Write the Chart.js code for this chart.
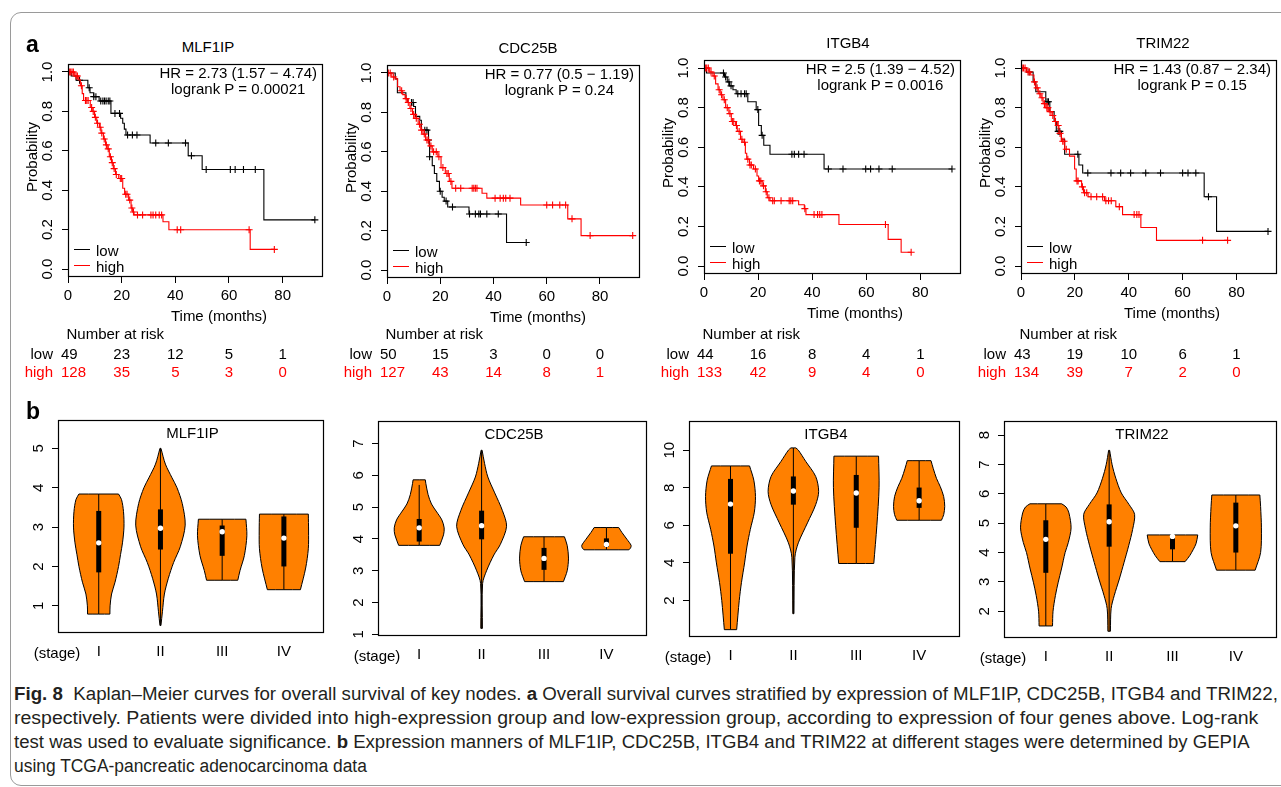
<!DOCTYPE html>
<html><head><meta charset="utf-8">
<script src="https://cdn.jsdelivr.net/npm/chart.js@4.4.1/dist/chart.umd.min.js"></script>
<style>
html,body{margin:0;padding:0;background:#fff;}
body{width:1281px;height:787px;position:relative;overflow:hidden;font-family:"Liberation Sans",Arial,Helvetica,sans-serif;color:#000;}
.t{position:absolute;white-space:nowrap;font-size:15px;line-height:1;}
canvas{position:absolute;}
#frame{position:absolute;left:10px;top:12px;width:1300px;height:772px;border:1.5px solid #9a9a9a;border-radius:11px;}
.cap{position:absolute;left:14px;white-space:nowrap;font-family:"Liberation Sans Narrow","Liberation Sans",Arial,sans-serif;font-size:18px;line-height:1;color:#231f20;transform-origin:0 50%;}
.leg{position:absolute;height:0;border-top:1.3px solid #000;}
</style></head><body>
<div id="frame"></div>
<script>
// ---------------- DATA ----------------
const kmGenes = ['MLF1IP', 'CDC25B', 'ITGB4', 'TRIM22'];
const kmHR = ['HR = 2.73 (1.57 \u2212 4.74)', 'HR = 0.77 (0.5 \u2212 1.19)', 'HR = 2.5 (1.39 \u2212 4.52)', 'HR = 1.43 (0.87 \u2212 2.34)'];
const kmP = ['logrank P = 0.00021', 'logrank P = 0.24', 'logrank P = 0.0016', 'logrank P = 0.15'];
const kmXTicks = [0, 20, 40, 60, 80];
const kmYTicks = [0, 0.2, 0.4, 0.6, 0.8, 1.0];
const groupNames = ['low', 'high'];

// MLF1IP
const mlfLowT = [0, 1.2, 3, 7.4, 8.2, 9.6, 11.6, 16.0, 19.6, 20.4, 21.0, 21.6, 30.6, 44.8, 50.0, 73.0, 92];
const mlfLowS = [1, 0.98, 0.958, 0.92, 0.895, 0.875, 0.853, 0.79, 0.765, 0.74, 0.71, 0.68, 0.64, 0.575, 0.505, 0.25, 0.25];
const mlfLowCens = [4.3, 7.9, 9.6, 10.4, 12.2, 13.0, 13.6, 14.2, 15.0, 15.6, 17.5, 19.2, 22.2, 24.0, 25.7, 32.7, 37.4, 43.8, 46.0, 51.5, 60.5, 62.3, 65.4, 69.8, 92];
const mlfHighT = [0, 2.5, 4.0, 4.6, 5.3, 5.8, 8.3, 9.0, 9.9, 10.7, 11.7, 12.3, 13.2, 14.0, 14.6, 15.4, 16.2, 16.9, 17.7, 18.9, 20.4, 21.1, 22.6, 23.5, 24.1, 24.6, 35.4, 37.6, 67.9, 76.9];
const mlfHighS = [1, 0.98, 0.96, 0.93, 0.89, 0.855, 0.82, 0.80, 0.77, 0.74, 0.72, 0.69, 0.66, 0.63, 0.61, 0.57, 0.54, 0.51, 0.48, 0.46, 0.41, 0.38, 0.35, 0.31, 0.29, 0.275, 0.24, 0.20, 0.10, 0.10];
const mlfHighCens = [0.5, 1.0, 1.5, 2.0, 3.0, 3.5, 5.0, 6.5, 7.0, 7.5, 8.8, 9.4, 10.2, 11.0, 12.0, 12.6, 13.5, 14.3, 15.0, 15.8, 16.5, 17.2, 18.0, 19.5, 20.0, 21.5, 22.0, 23.0, 23.8, 24.4, 25.9, 27.8, 30.9, 31.7, 32.7, 34.0, 34.9, 40.7, 42.0, 67.5, 76.9];
const mlfRiskLow = [49, 23, 12, 5, 1];
const mlfRiskHigh = [128, 35, 5, 3, 0];

// CDC25B
const cdcLowT = [0, 3.1, 3.9, 7.1, 7.8, 10.0, 10.7, 12.3, 12.9, 15.6, 16.0, 17.0, 17.8, 18.7, 19.7, 20.7, 21.5, 22.8, 30.8, 44.9, 52.3];
const cdcLowS = [1, 0.97, 0.90, 0.87, 0.85, 0.83, 0.78, 0.76, 0.71, 0.66, 0.575, 0.53, 0.49, 0.45, 0.40, 0.37, 0.35, 0.32, 0.285, 0.14, 0.14];
const cdcLowCens = [9.2, 9.8, 14.2, 15.0, 15.6, 16.0, 20.0, 22.2, 24.6, 31.0, 33.2, 34.5, 35.1, 37.5, 41.8, 52.3];
const cdcHighT = [0, 1.8, 3.1, 4.0, 4.9, 5.9, 6.8, 7.6, 8.6, 9.6, 10.5, 11.7, 12.7, 13.5, 14.5, 15.8, 17.0, 19.1, 20.3, 21.9, 23.4, 24.4, 35.7, 37.5, 50.2, 67.9, 72.9, 92.3];
const cdcHighS = [1, 0.98, 0.97, 0.93, 0.91, 0.89, 0.87, 0.85, 0.82, 0.79, 0.77, 0.74, 0.71, 0.69, 0.66, 0.63, 0.60, 0.575, 0.52, 0.49, 0.45, 0.415, 0.39, 0.365, 0.33, 0.26, 0.175, 0.175];
const cdcHighCens = [0.5, 1.2, 2.5, 5.5, 7.2, 8.0, 9.0, 10.0, 11.0, 12.2, 13.0, 14.0, 15.0, 15.5, 16.5, 17.5, 18.5, 19.5, 21.0, 22.5, 23.0, 24.0, 25.8, 27.7, 32.0, 32.6, 33.2, 33.8, 40.6, 42.5, 43.7, 44.6, 46.2, 60.0, 62.2, 64.9, 67.1, 69.5, 76.3, 92.3];
const cdcRiskLow = [50, 15, 3, 0, 0];
const cdcRiskHigh = [127, 43, 14, 8, 1];

// ITGB4
const itgLowT = [0, 0.9, 7.6, 8.6, 9.4, 10.7, 11.9, 16.2, 19.3, 20.2, 21.2, 22.1, 24.4, 44.4, 91.7];
const itgLowS = [1, 0.975, 0.955, 0.93, 0.91, 0.89, 0.87, 0.83, 0.79, 0.71, 0.66, 0.61, 0.565, 0.49, 0.49];
const itgLowCens = [7.2, 8.0, 9.2, 10.0, 12.5, 13.7, 15.0, 15.6, 19.9, 21.5, 32.5, 33.4, 35.0, 37.0, 46.0, 51.4, 59.8, 61.6, 64.7, 69.6, 91.7];
const itgHighT = [0, 2.1, 3.3, 4.3, 5.2, 6.0, 7.0, 8.0, 9.2, 10.1, 11.7, 12.3, 13.5, 14.4, 15.3, 15.8, 16.8, 18.3, 19.6, 20.2, 21.5, 22.7, 23.4, 24.4, 35.0, 37.1, 37.7, 49.9, 68.1, 72.9, 76.6];
const itgHighS = [1, 0.98, 0.96, 0.92, 0.89, 0.865, 0.84, 0.80, 0.77, 0.73, 0.71, 0.68, 0.64, 0.625, 0.57, 0.54, 0.51, 0.49, 0.455, 0.43, 0.405, 0.375, 0.345, 0.33, 0.31, 0.29, 0.26, 0.21, 0.135, 0.07, 0.07];
const itgHighCens = [0.5, 1.0, 1.6, 2.6, 3.8, 5.6, 6.5, 7.5, 8.6, 9.6, 10.5, 11.0, 12.0, 13.0, 14.0, 15.0, 16.2, 17.0, 17.5, 19.0, 20.5, 21.0, 22.0, 23.0, 24.0, 25.4, 26.0, 28.5, 31.5, 32.1, 32.8, 37.3, 40.7, 42.0, 42.8, 43.6, 67.1, 76.6];
const itgRiskLow = [44, 16, 8, 4, 1];
const itgRiskHigh = [133, 42, 9, 4, 0];

// TRIM22
const trimLowT = [0, 2.1, 4.5, 5.5, 9.2, 10.7, 12.3, 13.1, 15.0, 16.2, 21.5, 22.9, 68.0, 72.6, 91.7];
const trimLowS = [1, 0.98, 0.93, 0.88, 0.83, 0.78, 0.73, 0.68, 0.64, 0.565, 0.51, 0.47, 0.35, 0.175, 0.175];
const trimLowCens = [3.0, 9.7, 10.2, 13.8, 14.4, 21.1, 24.8, 33.4, 37.0, 40.7, 46.3, 51.8, 60.0, 62.0, 64.9, 69.6, 91.7];
const trimHighT = [0, 2.1, 3.6, 4.8, 5.5, 6.4, 7.4, 8.2, 9.2, 10.3, 11.5, 12.5, 13.5, 14.1, 15.0, 16.2, 18.0, 19.9, 20.5, 22.5, 23.2, 24.9, 31.0, 35.2, 37.7, 44.5, 50.3, 76.7];
const trimHighS = [1, 0.98, 0.965, 0.93, 0.90, 0.87, 0.85, 0.82, 0.80, 0.78, 0.76, 0.73, 0.71, 0.67, 0.63, 0.59, 0.555, 0.49, 0.43, 0.40, 0.37, 0.35, 0.33, 0.30, 0.26, 0.195, 0.13, 0.13];
const trimHighCens = [0.4, 0.9, 1.5, 2.6, 3.2, 5.0, 6.0, 7.0, 7.8, 8.7, 9.6, 10.0, 10.8, 11.8, 12.8, 13.8, 14.5, 15.5, 16.0, 16.8, 20.8, 21.2, 22.8, 23.6, 24.4, 26.0, 28.1, 30.3, 31.5, 32.5, 33.5, 36.5, 42.0, 43.0, 43.8, 67.4, 76.7];
const trimRiskLow = [43, 19, 10, 6, 1];
const trimRiskHigh = [134, 39, 7, 2, 0];

// Violin plots (panel b)
const stageLabels = ['I', 'II', 'III', 'IV'];
const mlfVioTicks = [1, 2, 3, 4, 5];
const cdcVioTicks = [1, 2, 3, 4, 5, 6, 7];
const itgVioTicks = [2, 4, 6, 8, 10];
const trimVioTicks = [2, 3, 4, 5, 6, 7, 8];

const mlfViolinY = [[0.79,1.0,1.3,1.6,2.0,2.3,2.6,3.0,3.4,3.7,3.84],[0.5,0.85,1.3,1.7,2.1,2.5,3.05,3.6,4.0,4.25,4.6,5.0],[1.65,1.9,2.28,2.78,3.2],[1.41,1.96,2.45,2.9,3.33]];
const mlfViolinW = [[0.181,0.184,0.208,0.264,0.321,0.353,0.385,0.409,0.401,0.369,0.321],[0.008,0.032,0.064,0.128,0.213,0.321,0.401,0.353,0.268,0.188,0.080,0.008],[0.253,0.29,0.36,0.40,0.385],[0.268,0.353,0.396,0.40,0.396]];
const mlfMin = [0.79, 0.5, 1.65, 1.41], mlfQ1 = [1.85, 2.43, 2.27, 2.0], mlfMed = [2.60, 2.97, 2.88, 2.72], mlfQ3 = [3.41, 3.45, 3.04, 3.27], mlfMax = [3.84, 5.0, 3.2, 3.33];

const cdcViolinY = [[3.8,4.13,4.35,4.6,4.85,5.1,5.4,5.75,5.86],[1.19,2.6,3.0,3.5,3.83,4.4,4.9,5.45,5.95,6.38,6.79],[2.66,3.0,3.4,3.8,4.07],[3.66,3.72,3.8,3.99,4.2,4.36]];
const cdcViolinW = [[0.329,0.390,0.400,0.363,0.281,0.197,0.142,0.106,0.098],[0.013,0.016,0.079,0.197,0.300,0.400,0.332,0.210,0.100,0.047,0.008],[0.311,0.371,0.392,0.371,0.327],[0.360,0.387,0.395,0.329,0.250,0.197]];
const cdcMin = [3.8, 1.19, 2.66, 3.66], cdcQ1 = [3.92, 3.99, 3.03, 3.75], cdcMed = [4.35, 4.42, 3.39, 3.83], cdcQ3 = [4.63, 4.89, 3.72, 4.02], cdcMax = [5.70, 6.79, 4.07, 4.36];

const itgViolinY = [[0.45,2,2.95,4,4.9,5.78,6.7,7.54,8.4,9.16],[1.3,4.3,5.07,6.13,7.1,7.8,8.6,9.4,10.0,10.12],[3.97,6.0,8.0,9.68],[6.27,6.57,7.01,7.54,8.06,8.5,9.03,9.44]];
const itgViolinW = [[0.098,0.139,0.174,0.224,0.263,0.315,0.379,0.397,0.371,0.303],[0.009,0.024,0.079,0.224,0.355,0.402,0.355,0.197,0.079,0.039],[0.279,0.328,0.363,0.355],[0.355,0.391,0.407,0.390,0.336,0.276,0.224,0.189]];
const itgMin = [0.45, 1.3, 3.97, 6.27], itgQ1 = [4.49, 7.1, 5.87, 6.93], itgMed = [7.13, 7.83, 7.72, 7.31], itgQ3 = [8.47, 8.6, 8.68, 8.01], itgMax = [9.16, 10.12, 9.68, 9.44];

const trimViolinY = [[1.5,2,2.54,2.99,3.44,4.0,4.34,4.84,5.35,5.55,5.66],[1.32,2.09,2.54,3.1,3.66,4.23,4.79,5.3,5.64,6.03,6.53,6.99,7.48],[3.69,3.9,4.3,4.6],[3.4,4.0,4.84,5.57,5.96]];
const trimViolinW = [[0.106,0.114,0.152,0.196,0.247,0.305,0.355,0.399,0.365,0.321,0.250],[0.020,0.031,0.081,0.161,0.235,0.308,0.371,0.402,0.313,0.192,0.105,0.047,0.008],[0.199,0.274,0.371,0.399],[0.305,0.391,0.404,0.391,0.379]];
const trimMin = [1.5, 1.32, 3.69, 3.4], trimQ1 = [3.31, 4.2, 4.11, 4.0], trimMed = [4.45, 5.05, 4.55, 4.91], trimQ3 = [5.1, 5.64, 4.55, 5.7], trimMax = [5.66, 7.48, 4.6, 5.96];

// ---------------- LAYOUT / STYLE ----------------
Chart.defaults.font.family = '"Liberation Sans", Arial, Helvetica, sans-serif';
Chart.defaults.font.size = 15;
Chart.defaults.color = '#000';

const RED = '#ff0000';
const ORANGE = '#ff8000';

const boxPlugin = {
  id: 'rbox',
  afterDraw(chart) {
    const a = chart.chartArea, ctx = chart.ctx;
    const L = Math.round(a.left), T = Math.round(a.top), R = Math.round(a.right), B = Math.round(a.bottom);
    ctx.save();
    ctx.strokeStyle = '#000'; ctx.lineWidth = 1.2;
    ctx.strokeRect(L + 0.5, T + 0.5, R - L - 1, B - T - 1);
    ctx.restore();
  }
};

function txt(s, x, y, o) {
  o = o || {};
  const d = document.createElement('div');
  d.className = 't';
  if (o.html) d.innerHTML = s; else d.textContent = s;
  d.style.left = x + 'px'; d.style.top = y + 'px';
  let tr = o.align === 'left' ? 'translate(0,-50%)' : (o.align === 'right' ? 'translate(-100%,-50%)' : 'translate(-50%,-50%)');
  if (o.rot) tr += ' rotate(-90deg)';
  d.style.transform = tr;
  if (o.color) d.style.color = o.color;
  if (o.size) d.style.fontSize = o.size + 'px';
  if (o.bold) d.style.fontWeight = 'bold';
  document.body.appendChild(d);
  return d;
}

function makeCanvas(box, pad) {
  const c = document.createElement('canvas');
  const w = box.r - box.l + pad.l + pad.r, h = box.b - box.t + pad.t + pad.b;
  c.width = w; c.height = h;
  c.style.left = (box.l - pad.l) + 'px'; c.style.top = (box.t - pad.t) + 'px';
  c.style.width = w + 'px'; c.style.height = h + 'px';
  document.body.appendChild(c);
  return c;
}

function fixX(h) { return s => { s.height = h; s.paddingLeft = 0; s.paddingRight = 0; s.paddingTop = 0; s.paddingBottom = 0; }; }
function fixY(w) { return s => { s.width = w; s.paddingLeft = 0; s.paddingRight = 0; s.paddingTop = 0; s.paddingBottom = 0; }; }

function survAt(T, S, t) { let s = S[0]; for (let i = 0; i < T.length; i++) { if (T[i] <= t) s = S[i]; } return s; }
function stepPts(T, S) { return T.map((t, i) => ({ x: t, y: S[i] })); }
function censPts(T, S, C) { return C.map(t => ({ x: t, y: survAt(T, S, t) })); }

const kmPanels = [
  { box: { l: 68, t: 62, r: 325, b: 277 }, titleX: 208, low: [mlfLowT, mlfLowS, mlfLowCens], high: [mlfHighT, mlfHighS, mlfHighCens], risk: [mlfRiskLow, mlfRiskHigh] },
  { box: { l: 387, t: 63, r: 642, b: 278 }, titleX: 528, low: [cdcLowT, cdcLowS, cdcLowCens], high: [cdcHighT, cdcHighS, cdcHighCens], risk: [cdcRiskLow, cdcRiskHigh] },
  { box: { l: 704, t: 58, r: 963, b: 274 }, titleX: 848, low: [itgLowT, itgLowS, itgLowCens], high: [itgHighT, itgHighS, itgHighCens], risk: [itgRiskLow, itgRiskHigh] },
  { box: { l: 1021, t: 58, r: 1279, b: 274 }, titleX: 1163, low: [trimLowT, trimLowS, trimLowCens], high: [trimHighT, trimHighS, trimHighCens], risk: [trimRiskLow, trimRiskHigh] }
];

function axisCommon() {
  return {
    grid: { display: true, drawOnChartArea: false, drawTicks: true, tickLength: 6, color: '#000', lineWidth: 1 },
    border: { display: false }
  };
}

kmPanels.forEach((p, k) => {
  const pad = { l: 60, r: 3, t: 3, b: 40 };
  const cv = makeCanvas(p.box, pad);
  const [lT, lS, lC] = p.low, [hT, hS, hC] = p.high;
  const chart = new Chart(cv, {
    type: 'scatter',
    data: {
      datasets: [
        { data: stepPts(lT, lS), showLine: true, stepped: true, borderColor: '#000', borderWidth: 1.1, pointRadius: 0, fill: false, order: 4 },
        { data: censPts(lT, lS, lC), showLine: false, pointStyle: 'cross', pointRadius: 3.5, borderColor: '#000', backgroundColor: '#000', pointBorderWidth: 1.1, order: 3 },
        { data: stepPts(hT, hS), showLine: true, stepped: true, borderColor: RED, borderWidth: 1.1, pointRadius: 0, fill: false, order: 2 },
        { data: censPts(hT, hS, hC), showLine: false, pointStyle: 'cross', pointRadius: 3.5, borderColor: RED, backgroundColor: RED, pointBorderWidth: 1.1, order: 1 }
      ]
    },
    options: {
      responsive: false, animation: false, devicePixelRatio: 1, events: [],
      layout: { padding: { left: 0, right: pad.r, top: pad.t, bottom: 0 } },
      plugins: { legend: { display: false }, tooltip: { enabled: false } },
      scales: {
        x: Object.assign(axisCommon(), {
          type: 'linear', min: 0, max: 95,
          afterFit: fixX(pad.b),
          afterBuildTicks: s => { s.ticks = kmXTicks.map(v => ({ value: v })); },
          ticks: { padding: 4, maxRotation: 0, autoSkip: false, callback: v => String(v) }
        }),
        y: Object.assign(axisCommon(), {
          type: 'linear', min: -0.04, max: 1.04,
          afterFit: fixY(pad.l),
          afterBuildTicks: s => { s.ticks = kmYTicks.map(v => ({ value: v })); },
          ticks: { padding: 4, minRotation: 90, maxRotation: 90, crossAlign: 'center', autoSkip: false, callback: v => Number(v).toFixed(1) }
        })
      }
    },
    plugins: [boxPlugin]
  });

  const b = p.box;
  txt(kmGenes[k], p.titleX, b.t - 16);
  const hr = document.createElement('div');
  hr.className = 't';
  hr.style.right = (1281 - (b.r - 8)) + 'px';
  hr.style.top = (b.t + 2.5) + 'px';
  hr.style.textAlign = 'center';
  hr.style.lineHeight = '16.5px';
  hr.innerHTML = kmHR[k] + '<br>' + kmP[k];
  document.body.appendChild(hr);
  [['#000', b.b - 27.5], [RED, b.b - 11.5]].forEach((g, i) => {
    const ln = document.createElement('div');
    ln.className = 'leg';
    ln.style.left = (b.l + 6) + 'px'; ln.style.width = '16px'; ln.style.top = (g[1] - 0.5) + 'px';
    ln.style.borderTopColor = g[0];
    document.body.appendChild(ln);
    txt(groupNames[i], b.l + 28, g[1], { align: 'left' });
  });
  txt('Time (months)', b.l + 151, b.b + 38);
  txt('Probability', b.l - 37, b.t + 95, { rot: true });
  txt('Number at risk', b.l - 1.5, 333, { align: 'left' });
  const rows = [[p.risk[0], '#000', 352.5], [p.risk[1], RED, 371]];
  rows.forEach((r, i) => {
    txt(groupNames[i], b.l - 15, r[2], { align: 'right', color: r[1] });
    r[0].forEach((v, j) => {
      const px = (b.l - pad.l) + chart.scales.x.getPixelForValue(kmXTicks[j]);
      if (j === 0) txt(String(v), px - 7, r[2], { align: 'left', color: r[1] });
      else txt(String(v), px, r[2], { color: r[1] });
    });
  });
});

// -------- violins --------
const vioPanels = [
  { gene: 'MLF1IP', box: { l: 58, t: 418, r: 327, b: 633 }, ymin: 0.31, ymax: 5.72, ticks: mlfVioTicks, pad: 8.5, vy: mlfViolinY, vw: mlfViolinW, mn: mlfMin, q1: mlfQ1, md: mlfMed, q3: mlfQ3, mx: mlfMax },
  { gene: 'CDC25B', box: { l: 378, t: 419, r: 650, b: 636 }, ymin: 0.95, ymax: 7.71, ticks: cdcVioTicks, pad: 8.5, vy: cdcViolinY, vw: cdcViolinW, mn: cdcMin, q1: cdcQ1, md: cdcMed, q3: cdcQ3, mx: cdcMax },
  { gene: 'ITGB4', box: { l: 689, t: 419, r: 963, b: 637 }, ymin: 0.06, ymax: 11.55, ticks: itgVioTicks, pad: 4.5, vy: itgViolinY, vw: itgViolinW, mn: itgMin, q1: itgQ1, md: itgMed, q3: itgQ3, mx: itgMax },
  { gene: 'TRIM22', box: { l: 1004, t: 419, r: 1280, b: 638 }, ymin: 1.09, ymax: 8.48, ticks: trimVioTicks, pad: 8.5, vy: trimViolinY, vw: trimViolinW, mn: trimMin, q1: trimQ1, md: trimMed, q3: trimQ3, mx: trimMax }
];

function violinShape(xc, ys, ws) {
  const pts = [];
  const n = ys.length;
  for (let i = 0; i < n; i++) {
    pts.push({ x: xc + ws[i], y: ys[i] });
    if (i === 0 || i === n - 1) pts.push({ x: xc + ws[i], y: ys[i] });
  }
  for (let i = n - 1; i >= 0; i--) {
    pts.push({ x: xc - ws[i], y: ys[i] });
    if (i === 0 || i === n - 1) pts.push({ x: xc - ws[i], y: ys[i] });
  }
  pts.push({ x: xc + ws[0], y: ys[0] });
  return pts;
}

vioPanels.forEach(p => {
  const pad = { l: 50, r: 1, t: 2, b: 32 };
  const cv = makeCanvas(p.box, pad);
  const ds = [];
  stageLabels.forEach((s, i) => {
    const xc = i + 1;
    ds.push({ data: violinShape(xc, p.vy[i], p.vw[i]), showLine: true, tension: 0.3, fill: 'shape', backgroundColor: ORANGE, borderColor: '#000', borderWidth: 1, pointRadius: 0, order: 40 + i });
    ds.push({ data: [{ x: xc, y: p.mn[i] }, { x: xc, y: p.mx[i] }], showLine: true, borderColor: '#000', borderWidth: 1, pointRadius: 0, fill: false, order: 30 + i });
    ds.push({ data: [{ x: xc, y: p.q1[i] }, { x: xc, y: p.q3[i] }], showLine: true, borderColor: '#000', borderWidth: 5, borderCapStyle: 'butt', pointRadius: 0, fill: false, order: 20 + i });
    ds.push({ data: [{ x: xc, y: p.md[i] }], showLine: false, pointRadius: 2.7, pointStyle: 'circle', backgroundColor: '#fff', borderColor: '#fff', pointBorderWidth: 0, order: 10 + i });
  });
  new Chart(cv, {
    type: 'scatter',
    data: { datasets: ds },
    options: {
      responsive: false, animation: false, devicePixelRatio: 1, events: [],
      layout: { padding: { left: 0, right: pad.r, top: pad.t, bottom: 0 } },
      plugins: { legend: { display: false }, tooltip: { enabled: false } },
      scales: {
        x: {
          type: 'linear', min: 0.34, max: 4.65,
          afterFit: fixX(pad.b),
          afterBuildTicks: s => { s.ticks = stageLabels.map((_, i) => ({ value: i + 1 })); },
          grid: { display: false, drawTicks: false },
          border: { display: false },
          ticks: { padding: 10, maxRotation: 0, autoSkip: false, callback: v => stageLabels[Math.round(v) - 1] || '' }
        },
        y: Object.assign(axisCommon(), {
          type: 'linear', min: p.ymin, max: p.ymax,
          afterFit: fixY(pad.l),
          afterBuildTicks: s => { s.ticks = p.ticks.map(v => ({ value: v })); },
          ticks: { padding: p.pad, minRotation: 90, maxRotation: 90, crossAlign: 'center', autoSkip: false, callback: v => String(v) }
        })
      }
    },
    plugins: [boxPlugin]
  });
  const b = p.box;
  txt(p.gene, (b.l + b.r) / 2, b.t + 13.5);
  txt('(stage)', b.l - 1, b.b + 19);
});

txt('a', 26, 44, { align: 'left', bold: true, size: 23 });
txt('b', 26, 411, { align: 'left', bold: true, size: 23 });

const capLines = [
  ['<b>Fig. 8</b>&nbsp; Kaplan\u2013Meier curves for overall survival of key nodes. <b>a</b> Overall survival curves stratified by expression of MLF1IP, CDC25B, ITGB4 and TRIM22,', 694, 1264],
  ['respectively. Patients were divided into high-expression group and low-expression group, according to expression of four genes above. Log-rank', 718, 1244],
  ['test was used to evaluate significance. <b>b</b> Expression manners of MLF1IP, CDC25B, ITGB4 and TRIM22 at different stages were determined by GEPIA', 742, 1236],
  ['using TCGA-pancreatic adenocarcinoma data', 766, 353]
];
capLines.forEach(c => {
  const d = document.createElement('div');
  d.className = 'cap';
  d.innerHTML = c[0];
  d.style.top = c[1] + 'px';
  document.body.appendChild(d);
  const w = d.offsetWidth;
  d.style.transform = 'translate(0,-50%) scaleX(' + (c[2] / w) + ')';
});
</script>
</body></html>
